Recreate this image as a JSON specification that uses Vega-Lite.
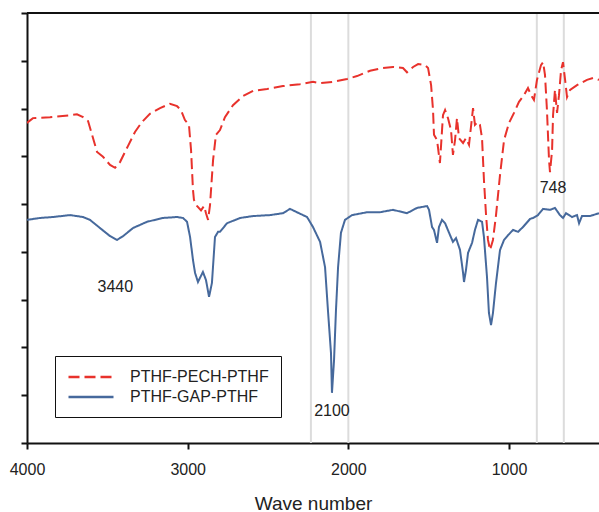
{
  "$schema": "https://vega.github.io/schema/vega-lite/v6.json",
  "width": 572,
  "height": 430,
  "autosize": {"type": "none"},
  "padding": {"left": 27, "top": 13, "right": 0, "bottom": 69},
  "background": "white",
  "config": {
    "view": {"stroke": null},
    "font": "Liberation Sans",
    "axis": {"grid": false}
  },
  "datasets": {
    "spectra": [
      {"wn": 4000, "t": 67.0, "series": "PTHF-PECH-PTHF"},
      {"wn": 3963, "t": 68.0, "series": "PTHF-PECH-PTHF"},
      {"wn": 3857, "t": 68.2, "series": "PTHF-PECH-PTHF"},
      {"wn": 3795, "t": 68.4, "series": "PTHF-PECH-PTHF"},
      {"wn": 3733, "t": 68.6, "series": "PTHF-PECH-PTHF"},
      {"wn": 3689, "t": 68.8, "series": "PTHF-PECH-PTHF"},
      {"wn": 3651, "t": 68.2, "series": "PTHF-PECH-PTHF"},
      {"wn": 3620, "t": 67.4, "series": "PTHF-PECH-PTHF"},
      {"wn": 3595, "t": 64.5, "series": "PTHF-PECH-PTHF"},
      {"wn": 3564, "t": 60.9, "series": "PTHF-PECH-PTHF"},
      {"wn": 3527, "t": 59.9, "series": "PTHF-PECH-PTHF"},
      {"wn": 3483, "t": 58.2, "series": "PTHF-PECH-PTHF"},
      {"wn": 3452, "t": 57.6, "series": "PTHF-PECH-PTHF"},
      {"wn": 3421, "t": 58.8, "series": "PTHF-PECH-PTHF"},
      {"wn": 3371, "t": 62.2, "series": "PTHF-PECH-PTHF"},
      {"wn": 3328, "t": 65.1, "series": "PTHF-PECH-PTHF"},
      {"wn": 3284, "t": 67.2, "series": "PTHF-PECH-PTHF"},
      {"wn": 3235, "t": 68.9, "series": "PTHF-PECH-PTHF"},
      {"wn": 3172, "t": 70.1, "series": "PTHF-PECH-PTHF"},
      {"wn": 3110, "t": 71.0, "series": "PTHF-PECH-PTHF"},
      {"wn": 3066, "t": 70.5, "series": "PTHF-PECH-PTHF"},
      {"wn": 3042, "t": 69.7, "series": "PTHF-PECH-PTHF"},
      {"wn": 3017, "t": 67.6, "series": "PTHF-PECH-PTHF"},
      {"wn": 2992, "t": 66.6, "series": "PTHF-PECH-PTHF"},
      {"wn": 2979, "t": 61.3, "series": "PTHF-PECH-PTHF"},
      {"wn": 2967, "t": 53.0, "series": "PTHF-PECH-PTHF"},
      {"wn": 2961, "t": 50.9, "series": "PTHF-PECH-PTHF"},
      {"wn": 2942, "t": 49.6, "series": "PTHF-PECH-PTHF"},
      {"wn": 2917, "t": 48.7, "series": "PTHF-PECH-PTHF"},
      {"wn": 2898, "t": 49.6, "series": "PTHF-PECH-PTHF"},
      {"wn": 2886, "t": 48.1, "series": "PTHF-PECH-PTHF"},
      {"wn": 2873, "t": 46.7, "series": "PTHF-PECH-PTHF"},
      {"wn": 2861, "t": 49.8, "series": "PTHF-PECH-PTHF"},
      {"wn": 2842, "t": 59.2, "series": "PTHF-PECH-PTHF"},
      {"wn": 2824, "t": 64.5, "series": "PTHF-PECH-PTHF"},
      {"wn": 2799, "t": 65.5, "series": "PTHF-PECH-PTHF"},
      {"wn": 2768, "t": 68.2, "series": "PTHF-PECH-PTHF"},
      {"wn": 2718, "t": 70.7, "series": "PTHF-PECH-PTHF"},
      {"wn": 2656, "t": 72.6, "series": "PTHF-PECH-PTHF"},
      {"wn": 2593, "t": 73.7, "series": "PTHF-PECH-PTHF"},
      {"wn": 2506, "t": 74.1, "series": "PTHF-PECH-PTHF"},
      {"wn": 2407, "t": 74.7, "series": "PTHF-PECH-PTHF"},
      {"wn": 2301, "t": 75.1, "series": "PTHF-PECH-PTHF"},
      {"wn": 2220, "t": 75.6, "series": "PTHF-PECH-PTHF"},
      {"wn": 2176, "t": 75.3, "series": "PTHF-PECH-PTHF"},
      {"wn": 2095, "t": 75.6, "series": "PTHF-PECH-PTHF"},
      {"wn": 2008, "t": 76.2, "series": "PTHF-PECH-PTHF"},
      {"wn": 1946, "t": 76.8, "series": "PTHF-PECH-PTHF"},
      {"wn": 1865, "t": 77.9, "series": "PTHF-PECH-PTHF"},
      {"wn": 1784, "t": 78.5, "series": "PTHF-PECH-PTHF"},
      {"wn": 1722, "t": 78.7, "series": "PTHF-PECH-PTHF"},
      {"wn": 1660, "t": 78.5, "series": "PTHF-PECH-PTHF"},
      {"wn": 1635, "t": 77.6, "series": "PTHF-PECH-PTHF"},
      {"wn": 1597, "t": 78.7, "series": "PTHF-PECH-PTHF"},
      {"wn": 1566, "t": 79.3, "series": "PTHF-PECH-PTHF"},
      {"wn": 1523, "t": 79.1, "series": "PTHF-PECH-PTHF"},
      {"wn": 1504, "t": 78.5, "series": "PTHF-PECH-PTHF"},
      {"wn": 1485, "t": 74.9, "series": "PTHF-PECH-PTHF"},
      {"wn": 1473, "t": 69.7, "series": "PTHF-PECH-PTHF"},
      {"wn": 1467, "t": 64.5, "series": "PTHF-PECH-PTHF"},
      {"wn": 1448, "t": 63.4, "series": "PTHF-PECH-PTHF"},
      {"wn": 1430, "t": 58.6, "series": "PTHF-PECH-PTHF"},
      {"wn": 1411, "t": 68.6, "series": "PTHF-PECH-PTHF"},
      {"wn": 1398, "t": 69.7, "series": "PTHF-PECH-PTHF"},
      {"wn": 1380, "t": 68.0, "series": "PTHF-PECH-PTHF"},
      {"wn": 1361, "t": 65.5, "series": "PTHF-PECH-PTHF"},
      {"wn": 1349, "t": 60.3, "series": "PTHF-PECH-PTHF"},
      {"wn": 1336, "t": 63.4, "series": "PTHF-PECH-PTHF"},
      {"wn": 1324, "t": 68.0, "series": "PTHF-PECH-PTHF"},
      {"wn": 1311, "t": 63.8, "series": "PTHF-PECH-PTHF"},
      {"wn": 1286, "t": 62.8, "series": "PTHF-PECH-PTHF"},
      {"wn": 1268, "t": 63.8, "series": "PTHF-PECH-PTHF"},
      {"wn": 1249, "t": 62.4, "series": "PTHF-PECH-PTHF"},
      {"wn": 1224, "t": 70.1, "series": "PTHF-PECH-PTHF"},
      {"wn": 1212, "t": 66.6, "series": "PTHF-PECH-PTHF"},
      {"wn": 1193, "t": 67.2, "series": "PTHF-PECH-PTHF"},
      {"wn": 1181, "t": 66.6, "series": "PTHF-PECH-PTHF"},
      {"wn": 1168, "t": 63.8, "series": "PTHF-PECH-PTHF"},
      {"wn": 1156, "t": 55.0, "series": "PTHF-PECH-PTHF"},
      {"wn": 1143, "t": 47.7, "series": "PTHF-PECH-PTHF"},
      {"wn": 1131, "t": 42.5, "series": "PTHF-PECH-PTHF"},
      {"wn": 1118, "t": 40.4, "series": "PTHF-PECH-PTHF"},
      {"wn": 1100, "t": 42.5, "series": "PTHF-PECH-PTHF"},
      {"wn": 1081, "t": 47.7, "series": "PTHF-PECH-PTHF"},
      {"wn": 1056, "t": 56.1, "series": "PTHF-PECH-PTHF"},
      {"wn": 1031, "t": 63.4, "series": "PTHF-PECH-PTHF"},
      {"wn": 1000, "t": 67.0, "series": "PTHF-PECH-PTHF"},
      {"wn": 969, "t": 69.1, "series": "PTHF-PECH-PTHF"},
      {"wn": 938, "t": 71.4, "series": "PTHF-PECH-PTHF"},
      {"wn": 907, "t": 72.8, "series": "PTHF-PECH-PTHF"},
      {"wn": 882, "t": 74.3, "series": "PTHF-PECH-PTHF"},
      {"wn": 863, "t": 72.8, "series": "PTHF-PECH-PTHF"},
      {"wn": 845, "t": 71.8, "series": "PTHF-PECH-PTHF"},
      {"wn": 826, "t": 76.0, "series": "PTHF-PECH-PTHF"},
      {"wn": 801, "t": 79.1, "series": "PTHF-PECH-PTHF"},
      {"wn": 788, "t": 79.7, "series": "PTHF-PECH-PTHF"},
      {"wn": 776, "t": 77.0, "series": "PTHF-PECH-PTHF"},
      {"wn": 764, "t": 69.7, "series": "PTHF-PECH-PTHF"},
      {"wn": 751, "t": 59.2, "series": "PTHF-PECH-PTHF"},
      {"wn": 745, "t": 56.7, "series": "PTHF-PECH-PTHF"},
      {"wn": 732, "t": 61.3, "series": "PTHF-PECH-PTHF"},
      {"wn": 726, "t": 68.6, "series": "PTHF-PECH-PTHF"},
      {"wn": 714, "t": 73.9, "series": "PTHF-PECH-PTHF"},
      {"wn": 701, "t": 69.1, "series": "PTHF-PECH-PTHF"},
      {"wn": 689, "t": 72.8, "series": "PTHF-PECH-PTHF"},
      {"wn": 676, "t": 78.1, "series": "PTHF-PECH-PTHF"},
      {"wn": 664, "t": 79.7, "series": "PTHF-PECH-PTHF"},
      {"wn": 651, "t": 76.0, "series": "PTHF-PECH-PTHF"},
      {"wn": 639, "t": 72.4, "series": "PTHF-PECH-PTHF"},
      {"wn": 620, "t": 73.9, "series": "PTHF-PECH-PTHF"},
      {"wn": 577, "t": 74.9, "series": "PTHF-PECH-PTHF"},
      {"wn": 515, "t": 76.0, "series": "PTHF-PECH-PTHF"},
      {"wn": 477, "t": 76.4, "series": "PTHF-PECH-PTHF"},
      {"wn": 440, "t": 76.0, "series": "PTHF-PECH-PTHF"},
      {"wn": 4000, "t": 46.7, "series": "PTHF-GAP-PTHF"},
      {"wn": 3919, "t": 47.1, "series": "PTHF-GAP-PTHF"},
      {"wn": 3838, "t": 47.3, "series": "PTHF-GAP-PTHF"},
      {"wn": 3732, "t": 47.7, "series": "PTHF-GAP-PTHF"},
      {"wn": 3651, "t": 47.3, "series": "PTHF-GAP-PTHF"},
      {"wn": 3608, "t": 46.7, "series": "PTHF-GAP-PTHF"},
      {"wn": 3546, "t": 45.0, "series": "PTHF-GAP-PTHF"},
      {"wn": 3483, "t": 43.3, "series": "PTHF-GAP-PTHF"},
      {"wn": 3440, "t": 42.5, "series": "PTHF-GAP-PTHF"},
      {"wn": 3402, "t": 43.3, "series": "PTHF-GAP-PTHF"},
      {"wn": 3340, "t": 45.0, "series": "PTHF-GAP-PTHF"},
      {"wn": 3253, "t": 46.3, "series": "PTHF-GAP-PTHF"},
      {"wn": 3154, "t": 47.1, "series": "PTHF-GAP-PTHF"},
      {"wn": 3066, "t": 47.3, "series": "PTHF-GAP-PTHF"},
      {"wn": 3029, "t": 47.1, "series": "PTHF-GAP-PTHF"},
      {"wn": 3004, "t": 46.3, "series": "PTHF-GAP-PTHF"},
      {"wn": 2985, "t": 43.1, "series": "PTHF-GAP-PTHF"},
      {"wn": 2967, "t": 38.3, "series": "PTHF-GAP-PTHF"},
      {"wn": 2954, "t": 35.6, "series": "PTHF-GAP-PTHF"},
      {"wn": 2936, "t": 33.7, "series": "PTHF-GAP-PTHF"},
      {"wn": 2905, "t": 35.8, "series": "PTHF-GAP-PTHF"},
      {"wn": 2886, "t": 34.1, "series": "PTHF-GAP-PTHF"},
      {"wn": 2867, "t": 30.6, "series": "PTHF-GAP-PTHF"},
      {"wn": 2849, "t": 33.5, "series": "PTHF-GAP-PTHF"},
      {"wn": 2830, "t": 43.1, "series": "PTHF-GAP-PTHF"},
      {"wn": 2811, "t": 44.2, "series": "PTHF-GAP-PTHF"},
      {"wn": 2799, "t": 44.2, "series": "PTHF-GAP-PTHF"},
      {"wn": 2755, "t": 46.0, "series": "PTHF-GAP-PTHF"},
      {"wn": 2674, "t": 47.1, "series": "PTHF-GAP-PTHF"},
      {"wn": 2593, "t": 47.5, "series": "PTHF-GAP-PTHF"},
      {"wn": 2488, "t": 47.7, "series": "PTHF-GAP-PTHF"},
      {"wn": 2407, "t": 48.1, "series": "PTHF-GAP-PTHF"},
      {"wn": 2363, "t": 49.0, "series": "PTHF-GAP-PTHF"},
      {"wn": 2320, "t": 48.3, "series": "PTHF-GAP-PTHF"},
      {"wn": 2257, "t": 47.3, "series": "PTHF-GAP-PTHF"},
      {"wn": 2220, "t": 45.2, "series": "PTHF-GAP-PTHF"},
      {"wn": 2176, "t": 42.1, "series": "PTHF-GAP-PTHF"},
      {"wn": 2145, "t": 36.8, "series": "PTHF-GAP-PTHF"},
      {"wn": 2127, "t": 27.8, "series": "PTHF-GAP-PTHF"},
      {"wn": 2108, "t": 18.8, "series": "PTHF-GAP-PTHF"},
      {"wn": 2102, "t": 10.5, "series": "PTHF-GAP-PTHF"},
      {"wn": 2089, "t": 17.4, "series": "PTHF-GAP-PTHF"},
      {"wn": 2077, "t": 27.8, "series": "PTHF-GAP-PTHF"},
      {"wn": 2064, "t": 36.8, "series": "PTHF-GAP-PTHF"},
      {"wn": 2046, "t": 44.0, "series": "PTHF-GAP-PTHF"},
      {"wn": 2021, "t": 46.7, "series": "PTHF-GAP-PTHF"},
      {"wn": 1977, "t": 47.7, "series": "PTHF-GAP-PTHF"},
      {"wn": 1884, "t": 48.3, "series": "PTHF-GAP-PTHF"},
      {"wn": 1803, "t": 48.3, "series": "PTHF-GAP-PTHF"},
      {"wn": 1722, "t": 48.8, "series": "PTHF-GAP-PTHF"},
      {"wn": 1635, "t": 48.1, "series": "PTHF-GAP-PTHF"},
      {"wn": 1573, "t": 49.2, "series": "PTHF-GAP-PTHF"},
      {"wn": 1510, "t": 49.6, "series": "PTHF-GAP-PTHF"},
      {"wn": 1498, "t": 48.8, "series": "PTHF-GAP-PTHF"},
      {"wn": 1479, "t": 45.2, "series": "PTHF-GAP-PTHF"},
      {"wn": 1467, "t": 44.6, "series": "PTHF-GAP-PTHF"},
      {"wn": 1448, "t": 41.9, "series": "PTHF-GAP-PTHF"},
      {"wn": 1436, "t": 45.2, "series": "PTHF-GAP-PTHF"},
      {"wn": 1417, "t": 46.7, "series": "PTHF-GAP-PTHF"},
      {"wn": 1398, "t": 46.0, "series": "PTHF-GAP-PTHF"},
      {"wn": 1367, "t": 43.5, "series": "PTHF-GAP-PTHF"},
      {"wn": 1349, "t": 42.1, "series": "PTHF-GAP-PTHF"},
      {"wn": 1330, "t": 42.9, "series": "PTHF-GAP-PTHF"},
      {"wn": 1305, "t": 40.4, "series": "PTHF-GAP-PTHF"},
      {"wn": 1286, "t": 35.6, "series": "PTHF-GAP-PTHF"},
      {"wn": 1280, "t": 33.7, "series": "PTHF-GAP-PTHF"},
      {"wn": 1268, "t": 36.2, "series": "PTHF-GAP-PTHF"},
      {"wn": 1255, "t": 39.8, "series": "PTHF-GAP-PTHF"},
      {"wn": 1230, "t": 41.9, "series": "PTHF-GAP-PTHF"},
      {"wn": 1212, "t": 44.6, "series": "PTHF-GAP-PTHF"},
      {"wn": 1193, "t": 46.7, "series": "PTHF-GAP-PTHF"},
      {"wn": 1168, "t": 46.3, "series": "PTHF-GAP-PTHF"},
      {"wn": 1156, "t": 43.1, "series": "PTHF-GAP-PTHF"},
      {"wn": 1137, "t": 34.7, "series": "PTHF-GAP-PTHF"},
      {"wn": 1125, "t": 27.2, "series": "PTHF-GAP-PTHF"},
      {"wn": 1112, "t": 24.7, "series": "PTHF-GAP-PTHF"},
      {"wn": 1100, "t": 27.2, "series": "PTHF-GAP-PTHF"},
      {"wn": 1081, "t": 33.5, "series": "PTHF-GAP-PTHF"},
      {"wn": 1056, "t": 40.4, "series": "PTHF-GAP-PTHF"},
      {"wn": 1031, "t": 42.5, "series": "PTHF-GAP-PTHF"},
      {"wn": 1006, "t": 43.5, "series": "PTHF-GAP-PTHF"},
      {"wn": 975, "t": 44.6, "series": "PTHF-GAP-PTHF"},
      {"wn": 944, "t": 44.2, "series": "PTHF-GAP-PTHF"},
      {"wn": 913, "t": 45.2, "series": "PTHF-GAP-PTHF"},
      {"wn": 869, "t": 46.9, "series": "PTHF-GAP-PTHF"},
      {"wn": 851, "t": 47.1, "series": "PTHF-GAP-PTHF"},
      {"wn": 820, "t": 47.7, "series": "PTHF-GAP-PTHF"},
      {"wn": 788, "t": 49.0, "series": "PTHF-GAP-PTHF"},
      {"wn": 745, "t": 48.8, "series": "PTHF-GAP-PTHF"},
      {"wn": 714, "t": 49.2, "series": "PTHF-GAP-PTHF"},
      {"wn": 683, "t": 47.7, "series": "PTHF-GAP-PTHF"},
      {"wn": 664, "t": 47.1, "series": "PTHF-GAP-PTHF"},
      {"wn": 645, "t": 48.1, "series": "PTHF-GAP-PTHF"},
      {"wn": 608, "t": 47.3, "series": "PTHF-GAP-PTHF"},
      {"wn": 577, "t": 47.7, "series": "PTHF-GAP-PTHF"},
      {"wn": 564, "t": 46.0, "series": "PTHF-GAP-PTHF"},
      {"wn": 546, "t": 47.5, "series": "PTHF-GAP-PTHF"},
      {"wn": 496, "t": 47.5, "series": "PTHF-GAP-PTHF"},
      {"wn": 440, "t": 48.1, "series": "PTHF-GAP-PTHF"}
    ],
    "vlines": [{"wn": 2233}, {"wn": 2000}, {"wn": 827}, {"wn": 659}],
    "labels": [
      {"wn": 3450, "t": 32.6, "text": "3440"},
      {"wn": 2102, "t": 6.7, "text": "2100"},
      {"wn": 726, "t": 53.4, "text": "748"}
    ],
    "frame": [{"t": 90}]
  },
  "layer": [
    {
      "data": {"name": "vlines"},
      "mark": {"type": "rule", "color": "#dcdcdc", "strokeWidth": 2},
      "encoding": {
        "x": {"field": "wn", "type": "quantitative", "scale": {"domain": [4000, 440], "nice": false, "zero": false}}
      }
    },
    {
      "data": {"name": "frame"},
      "mark": {"type": "rule", "color": "#111", "strokeWidth": 2},
      "encoding": {
        "y": {"field": "t", "type": "quantitative", "scale": {"domain": [0, 90], "nice": false, "zero": false}}
      }
    },
    {
      "data": {"name": "spectra"},
      "mark": {"type": "line", "strokeWidth": 2, "clip": true, "interpolate": "linear"},
      "encoding": {
        "x": {
          "field": "wn", "type": "quantitative",
          "scale": {"domain": [4000, 440], "nice": false, "zero": false},
          "axis": {
            "values": [4000, 3000, 2000, 1000],
            "title": "Wave number",
            "titleFont": "Liberation Sans",
            "titleFontSize": 19,
            "titleFontWeight": "normal",
            "titleColor": "#222",
            "titlePadding": 17,
            "labelFontSize": 16,
            "labelColor": "#222",
            "labelPadding": 12,
            "labelFlush": false,
            "tickSize": 6,
            "tickWidth": 2,
            "tickColor": "#111",
            "domainColor": "#111",
            "domainWidth": 2,
            "format": "d"
          }
        },
        "y": {
          "field": "t", "type": "quantitative",
          "scale": {"domain": [0, 90], "nice": false, "zero": false},
          "axis": {
            "values": [0, 10, 20, 30, 40, 50, 60, 70, 80, 90],
            "labels": false,
            "title": null,
            "tickSize": 6,
            "tickWidth": 2,
            "tickColor": "#111",
            "domainColor": "#111",
            "domainWidth": 2
          }
        },
        "color": {
          "field": "series", "type": "nominal",
          "scale": {"domain": ["PTHF-PECH-PTHF", "PTHF-GAP-PTHF"], "range": ["#e8322c", "#46699c"]},
          "legend": {
            "title": null,
            "orient": "none",
            "legendX": 28,
            "legendY": 343,
            "symbolType": "M-1,0H5",
            "symbolSize": 225,
            "symbolStrokeWidth": 2.5,
            "labelFontSize": 16,
            "labelColor": "#222",
            "labelOffset": 45,
            "rowPadding": 3,
            "padding": 12,
            "strokeColor": "#111",
            "fillColor": "white"
          }
        },
        "strokeDash": {
          "field": "series", "type": "nominal",
          "scale": {"domain": ["PTHF-PECH-PTHF", "PTHF-GAP-PTHF"], "range": [[11, 5], [1, 0]]},
          "legend": null
        },
        "order": {"field": "wn", "type": "quantitative", "sort": "descending"}
      }
    },
    {
      "data": {"name": "labels"},
      "mark": {"type": "text", "fontSize": 16, "color": "#222", "font": "Liberation Sans"},
      "encoding": {
        "x": {"field": "wn", "type": "quantitative"},
        "y": {"field": "t", "type": "quantitative"},
        "text": {"field": "text"}
      }
    }
  ]
}
